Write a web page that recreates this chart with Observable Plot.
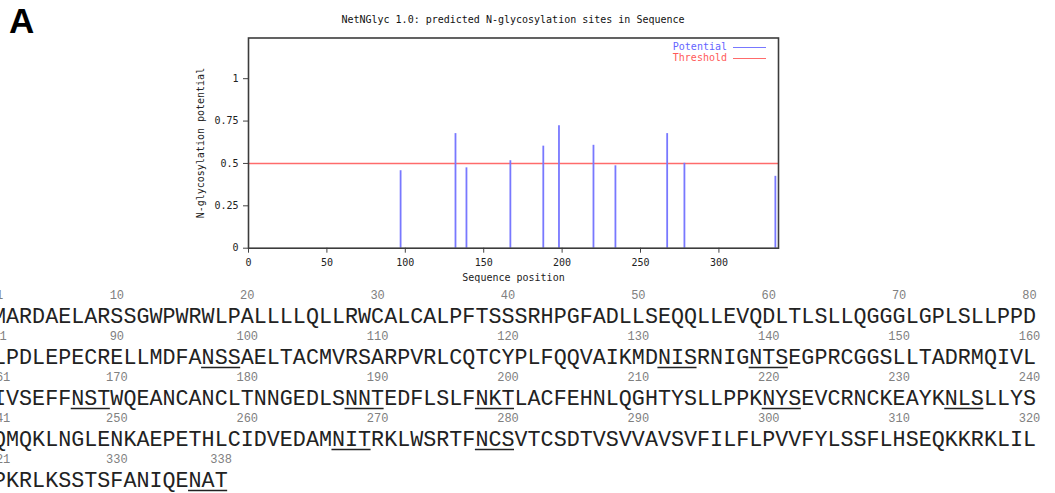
<!DOCTYPE html>
<html>
<head>
<meta charset="utf-8">
<script src="https://cdn.jsdelivr.net/npm/d3@7"></script>
<script src="https://cdn.jsdelivr.net/npm/@observablehq/plot@0.6"></script>
<style>
  html, body { margin: 0; padding: 0; background: #fff; overflow: hidden; }
  #wrap { position: relative; width: 1055px; height: 493px; overflow: hidden; }
  #wrap > * { position: absolute; }
  #panel { left: 9px; top: 3px; font: bold 35px/35px "Liberation Sans", Arial, sans-serif; color: #000; }
  #title { left: 248px; width: 530px; top: 14px; text-align: center; font: 10px "DejaVu Sans Mono", monospace; color: #111; white-space: pre; }
  #legend { left: 600px; width: 127px; top: 41px; font: 10px "DejaVu Sans Mono", monospace; text-align: right; line-height: 11px; }
  .sw { position: absolute; left: 133px; width: 33px; height: 0; }
</style>
</head>
<body>
<div id="wrap">
  <div id="topChart"></div>
  <div id="seq"></div>
  <div id="panel">A</div>
  <div id="title">NetNGlyc 1.0: predicted N-glycosylation sites in Sequence</div>
  <div id="legend">
    <div style="color:#6464ff">Potential</div>
    <div style="color:#ff5a5a">Threshold</div>
    <div class="sw" style="top:6px;border-top:1.5px solid #7878ff"></div>
    <div class="sw" style="top:17px;border-top:1.5px solid #ff6b6b"></div>
  </div>
</div>
<script>
// ---- data ----
const seqRows = [
  "MARDAELARSSGWPWRWLPALLLLQLLRWCALCALPFTSSSRHPGFADLLSEQQLLEVQDLTLSLLQGGGLGPLSLLPPD",
  "LPDLEPECRELLMDFANSSAELTACMVRSARPVRLCQTCYPLFQQVAIKMDNISRNIGNTSEGPRCGGSLLTADRMQIVL",
  "IVSEFFNSTWQEANCANCLTNNGEDLSNNTEDFLSLFNKTLACFEHNLQGHTYSLLPPKNYSEVCRNCKEAYKNLSLLYS",
  "QMQKLNGLENKAEPETHLCIDVEDAMNITRKLWSRTFNCSVTCSDTVSVVAVSVFILFLPVVFYLSSFLHSEQKKRKLIL",
  "PKRLKSSTSFANIQENAT"
];
const sitePositions = [97, 132, 139, 167, 188, 198, 220, 234, 267, 278, 336];
const potentials    = [0.457, 0.676, 0.474, 0.516, 0.602, 0.722, 0.607, 0.486, 0.676, 0.501, 0.424];
const threshold = 0.5;
const seqLength = 338;
const xTicks = [0, 50, 100, 150, 200, 250, 300];
const yTicks = [0, 0.25, 0.5, 0.75, 1];
const yTickLabels = ["0", "0.25", "0.5", "0.75", "1"];
const rowWidth = 80;
const labelCols = [1, 10, 20, 30, 40, 50, 60, 70, 80];

// ---- top chart ----
const sites = sitePositions.map((p, i) => ({pos: p, value: potentials[i]}));
const mono = "DejaVu Sans Mono, monospace";
const chart = Plot.plot({
  width: 1055, height: 290,
  marginLeft: 248, marginRight: 277, marginTop: 37.5, marginBottom: 42.3,
  style: {background: "transparent", fontFamily: mono, fontSize: "10px", color: "#222"},
  x: {domain: [0, seqLength]},
  y: {domain: [0, 1.24]},
  marks: [
    Plot.ruleY([threshold], {stroke: "#ff6b6b", strokeWidth: 1.6}),
    Plot.ruleX(sites, {x: "pos", y1: 0, y2: "value", stroke: "#7878ff", strokeWidth: 1.8}),
    Plot.axisX({ticks: xTicks, tickSize: 5, tickPadding: 6, label: "Sequence position", labelAnchor: "center", labelArrow: "none", labelOffset: 33, stroke: "#444"}),
    Plot.axisY({ticks: yTicks, tickFormat: d => yTickLabels[yTicks.indexOf(d)], tickSize: 5, tickPadding: 5, label: "N-glycosylation potential", labelAnchor: "center", labelArrow: "none", labelOffset: 52, stroke: "#444"}),
    Plot.frame({stroke: "#3c3c3c", strokeWidth: 1.6})
  ]
});
document.getElementById("topChart").append(chart);

// ---- sequence panel ----
const chars = [];
seqRows.forEach((s, r) => [...s].forEach((ch, i) => chars.push({row: r + 1, col: i + 1, ch})));
const posLabels = [];
seqRows.forEach((s, r) => {
  labelCols.forEach(c => { const n = r * rowWidth + c; if (c <= s.length) posLabels.push({row: r + 1, col: c, text: String(n)}); });
  if (s.length < rowWidth) posLabels.push({row: r + 1, col: s.length, text: String(r * rowWidth + s.length)});
});
const underlines = sitePositions.map(p => ({row: Math.floor((p - 1) / rowWidth) + 1, c1: (p - 1) % rowWidth + 0.5, c2: (p - 1) % rowWidth + 3.5}));

const seqPlot = Plot.plot({
  width: 1055, height: 213,
  margin: 0,
  style: {background: "transparent"},
  x: {domain: [1, 80], range: [-1, 1029], axis: null},
  y: {domain: [1, 5], range: [36, 200], axis: null},
  marks: [
    Plot.text(posLabels, {x: "col", y: "row", text: "text", dy: -21, fontSize: 12, fontFamily: "Liberation Mono, monospace", fill: "#808080"}),
    Plot.text(chars, {x: "col", y: "row", text: "ch", fontSize: 21.7, fontFamily: "Liberation Mono, monospace", fill: "#222"}),
    Plot.ruleY(underlines, {y: "row", x1: "c1", x2: "c2", dy: 10, stroke: "#222", strokeWidth: 1.4})
  ]
});
const seqDiv = document.getElementById("seq");
seqDiv.style.top = "280px";
seqDiv.append(seqPlot);
</script>
</body>
</html>
